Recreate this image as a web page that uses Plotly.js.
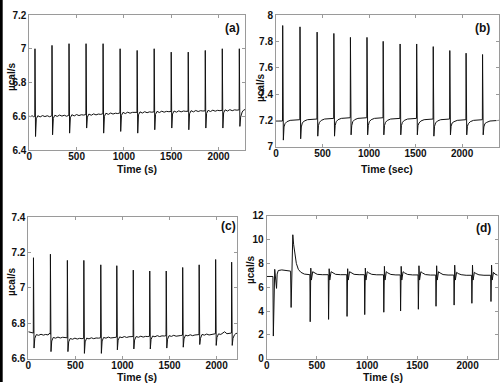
<!DOCTYPE html>
<html>
<head>
<meta charset="utf-8">
<script src="https://cdn.plot.ly/plotly-3.0.1.min.js"></script>
<style>
  html, body { margin: 0; padding: 0; background: #fff; }
  #chart { width: 503px; height: 386px; }
</style>
</head>
<body>
<div id="chart"></div>
<script>
// ---- data (time in s, heat flow in µcal/s) ----

// panel (a)
let timeA = [0, 15, 30, 45,
  58, 60, 66, 74, 90, 115, 140, 165, 190, 215,
  238, 240, 246, 254, 270, 295, 320, 345, 370, 395,
  418, 420, 426, 434, 450, 475, 500, 525, 550, 575,
  598, 600, 606, 614, 630, 655, 680, 705, 730, 755,
  778, 780, 786, 794, 810, 835, 860, 885, 910, 935,
  958, 960, 966, 974, 990, 1015, 1040, 1065, 1090, 1115,
  1138, 1140, 1146, 1154, 1170, 1195, 1220, 1245, 1270, 1295,
  1318, 1320, 1326, 1334, 1350, 1375, 1400, 1425, 1450, 1475,
  1498, 1500, 1506, 1514, 1530, 1555, 1580, 1605, 1630, 1655,
  1678, 1680, 1686, 1694, 1710, 1735, 1760, 1785, 1810, 1835,
  1858, 1860, 1866, 1874, 1890, 1915, 1940, 1965, 1990, 2015,
  2038, 2040, 2046, 2054, 2070, 2095, 2120, 2145, 2170, 2195,
  2218, 2220, 2226, 2234, 2250, 2265, 2280];
let heatA = [6.600, 6.598, 6.603, 6.597,
  6.600, 7.00, 6.48, 6.585, 6.603, 6.596, 6.604, 6.598, 6.603, 6.597,
  6.603, 7.02, 6.49, 6.588, 6.606, 6.599, 6.607, 6.601, 6.606, 6.600,
  6.606, 7.03, 6.50, 6.591, 6.609, 6.602, 6.610, 6.604, 6.609, 6.607,
  6.610, 7.03, 6.53, 6.595, 6.613, 6.606, 6.614, 6.608, 6.613, 6.611,
  6.615, 7.03, 6.50, 6.600, 6.618, 6.611, 6.619, 6.613, 6.618, 6.616,
  6.620, 7.00, 6.51, 6.605, 6.623, 6.616, 6.624, 6.618, 6.623, 6.621,
  6.623, 6.99, 6.50, 6.608, 6.626, 6.619, 6.627, 6.621, 6.626, 6.624,
  6.626, 7.00, 6.52, 6.611, 6.629, 6.622, 6.630, 6.624, 6.629, 6.627,
  6.628, 6.98, 6.53, 6.613, 6.631, 6.624, 6.632, 6.626, 6.631, 6.629,
  6.630, 6.98, 6.52, 6.615, 6.633, 6.626, 6.634, 6.628, 6.633, 6.631,
  6.632, 6.99, 6.53, 6.617, 6.635, 6.628, 6.636, 6.630, 6.635, 6.633,
  6.635, 7.00, 6.53, 6.620, 6.638, 6.631, 6.639, 6.633, 6.638, 6.636,
  6.638, 7.00, 6.54, 6.595, 6.625, 6.636, 6.640];

// panel (b)
let timeB = [0, 40, 70,
  72, 79, 86, 97, 117, 152, 202,
  256, 258, 265, 272, 283, 303, 338, 388,
  440, 442, 449, 456, 467, 487, 522, 572,
  620, 622, 629, 636, 647, 667, 702, 752,
  798, 800, 807, 814, 825, 845, 880, 930,
  976, 978, 985, 992, 1003, 1023, 1058, 1108,
  1150, 1152, 1159, 1166, 1177, 1197, 1232, 1282,
  1332, 1334, 1341, 1348, 1359, 1379, 1414, 1464,
  1510, 1512, 1519, 1526, 1537, 1557, 1592, 1642,
  1688, 1690, 1697, 1704, 1715, 1735, 1770, 1820,
  1866, 1868, 1875, 1882, 1893, 1913, 1948, 1998,
  2041, 2043, 2050, 2057, 2068, 2088, 2123, 2173,
  2218, 2220, 2227, 2234, 2245, 2265, 2300, 2350, 2400];
let heatB = [7.195, 7.196, 7.195,
  7.92, 7.05, 7.15, 7.175, 7.19, 7.20, 7.205,
  7.205, 7.91, 7.06, 7.15, 7.18, 7.195, 7.205, 7.21,
  7.21, 7.87, 7.08, 7.16, 7.185, 7.20, 7.21, 7.215,
  7.215, 7.86, 7.08, 7.16, 7.19, 7.205, 7.215, 7.22,
  7.22, 7.83, 7.09, 7.16, 7.19, 7.205, 7.215, 7.22,
  7.22, 7.83, 7.09, 7.16, 7.19, 7.205, 7.215, 7.22,
  7.22, 7.80, 7.09, 7.16, 7.185, 7.20, 7.21, 7.215,
  7.215, 7.78, 7.09, 7.16, 7.185, 7.20, 7.21, 7.215,
  7.215, 7.78, 7.09, 7.16, 7.18, 7.195, 7.205, 7.21,
  7.21, 7.76, 7.08, 7.155, 7.18, 7.195, 7.205, 7.21,
  7.21, 7.73, 7.09, 7.155, 7.18, 7.19, 7.20, 7.205,
  7.205, 7.71, 7.09, 7.155, 7.175, 7.19, 7.20, 7.205,
  7.205, 7.70, 7.09, 7.15, 7.175, 7.185, 7.195, 7.20, 7.20];

// panel (c)
let timeC = [0, 20, 40,
  53, 55, 61, 69, 85, 110, 135, 160, 185, 210, 228,
  233, 235, 241, 249, 265, 290, 315, 340, 365, 390,
  413, 415, 421, 429, 445, 470, 495, 520, 545, 570,
  588, 590, 596, 604, 620, 645, 670, 695, 720, 745,
  768, 770, 776, 784, 800, 825, 850, 875, 900, 920,
  938, 940, 946, 954, 970, 995, 1020, 1045, 1070, 1095,
  1113, 1115, 1121, 1129, 1145, 1170, 1195, 1220, 1245, 1270,
  1288, 1290, 1296, 1304, 1320, 1345, 1370, 1395, 1420, 1445,
  1463, 1465, 1471, 1479, 1495, 1520, 1545, 1570, 1595, 1620,
  1638, 1640, 1646, 1654, 1670, 1695, 1720, 1745, 1770, 1795,
  1813, 1815, 1821, 1829, 1845, 1870, 1895, 1920, 1945, 1970,
  1988, 1990, 1996, 2004, 2020, 2045, 2070, 2085, 2110, 2140,
  2158, 2160, 2166, 2174, 2190, 2205, 2220];
let heatC = [6.752, 6.750, 6.748,
  6.745, 7.17, 6.66, 6.715, 6.736, 6.732, 6.738, 6.733, 6.737, 6.734, 6.745,
  6.738, 7.19, 6.64, 6.700, 6.720, 6.716, 6.722, 6.717, 6.721, 6.718,
  6.718, 7.155, 6.64, 6.695, 6.714, 6.710, 6.716, 6.711, 6.715, 6.713,
  6.715, 7.155, 6.63, 6.695, 6.716, 6.712, 6.718, 6.713, 6.717, 6.716,
  6.718, 7.13, 6.63, 6.700, 6.720, 6.716, 6.722, 6.717, 6.721, 6.720,
  6.722, 7.125, 6.65, 6.705, 6.723, 6.719, 6.725, 6.720, 6.724, 6.723,
  6.725, 7.10, 6.655, 6.705, 6.725, 6.721, 6.727, 6.722, 6.726, 6.725,
  6.727, 7.095, 6.655, 6.708, 6.728, 6.724, 6.730, 6.725, 6.729, 6.728,
  6.730, 7.095, 6.66, 6.710, 6.730, 6.726, 6.732, 6.727, 6.731, 6.731,
  6.733, 7.115, 6.665, 6.712, 6.733, 6.729, 6.735, 6.730, 6.734, 6.734,
  6.736, 7.13, 6.68, 6.715, 6.737, 6.733, 6.739, 6.734, 6.738, 6.739,
  6.741, 7.16, 6.675, 6.720, 6.740, 6.737, 6.744, 6.752, 6.741, 6.743,
  6.745, 7.145, 6.675, 6.715, 6.735, 6.742, 6.744];

// panel (d)
let timeD = [0, 30, 62, 66, 72, 80, 90, 98, 104, 115, 150, 200, 238,
  243, 250, 260, 268, 280, 295, 315, 340, 375, 420,
  430, 433, 439, 445, 458, 473, 503, 553,
  613, 616, 622, 628, 641, 656, 686, 736,
  797, 800, 806, 812, 825, 840, 870, 920,
  973, 976, 982, 988, 1001, 1016, 1046, 1096,
  1163, 1166, 1172, 1178, 1191, 1206, 1236, 1286,
  1330, 1333, 1339, 1345, 1358, 1373, 1403, 1453,
  1507, 1510, 1516, 1522, 1535, 1550, 1580, 1630,
  1683, 1686, 1692, 1698, 1711, 1726, 1756, 1806,
  1863, 1866, 1872, 1878, 1891, 1906, 1936, 1986,
  2040, 2043, 2049, 2055, 2068, 2083, 2113, 2163,
  2230, 2233, 2239, 2245, 2258, 2273, 2300];
let heatD = [6.9, 6.9, 6.9, 1.9, 6.5, 7.5, 6.6, 5.9, 7.1, 7.4, 7.45, 7.4, 7.35,
  4.3, 7.0, 10.4, 9.6, 8.7, 8.0, 7.5, 7.25, 7.1, 7.05,
  7.05, 3.1, 7.6, 6.6, 7.3, 7.2, 7.08, 7.05,
  7.05, 3.3, 7.55, 6.6, 7.3, 7.2, 7.08, 7.05,
  7.05, 3.55, 7.55, 6.6, 7.3, 7.2, 7.08, 7.05,
  7.05, 3.7, 7.6, 6.6, 7.3, 7.2, 7.08, 7.04,
  7.04, 3.9, 7.75, 6.6, 7.3, 7.2, 7.07, 7.03,
  7.03, 4.0, 7.75, 6.6, 7.3, 7.2, 7.07, 7.03,
  7.03, 4.15, 7.8, 6.6, 7.3, 7.2, 7.06, 7.02,
  7.02, 4.4, 7.8, 6.6, 7.3, 7.2, 7.06, 7.02,
  7.02, 4.5, 7.85, 6.6, 7.25, 7.15, 7.05, 7.0,
  7.0, 4.65, 7.85, 6.6, 7.25, 7.15, 7.04, 7.0,
  7.0, 4.8, 7.85, 6.6, 7.25, 7.1, 7.0];

let panelLetters = ["(a)", "(b)", "(c)", "(d)"];
let xTitles = ["Time (s)", "Time (sec)", "Time (s)", "Time (s)"];
let yTitle = "µcal/s";

// ---- traces ----
let lineStyle = {color: "#111", width: 1};
let traces = [
  {x: timeA, y: heatA, xaxis: "x", yaxis: "y", type: "scatter", mode: "lines", line: lineStyle},
  {x: timeB, y: heatB, xaxis: "x2", yaxis: "y2", type: "scatter", mode: "lines", line: lineStyle},
  {x: timeC, y: heatC, xaxis: "x3", yaxis: "y3", type: "scatter", mode: "lines", line: lineStyle},
  {x: timeD, y: heatD, xaxis: "x4", yaxis: "y4", type: "scatter", mode: "lines", line: lineStyle}
];

// ---- layout ----
let W = 503, H = 386;
let narrow = "Liberation Sans Narrow, Arial Narrow, Liberation Sans, Arial";
let tickFont = {family: narrow, size: 10, color: "#111", weight: "bold"};

function axisStyle(extra) {
  return Object.assign({
    showline: true, mirror: "ticks", linecolor: "#9a9a9a", linewidth: 1,
    ticks: "inside", ticklen: 3, tickcolor: "#9a9a9a",
    showgrid: false, zeroline: false, tickfont: tickFont, fixedrange: true
  }, extra);
}
// x axes: labels sit tight under the frame, as in the scan
function xStyle(extra) {
  return axisStyle(Object.assign({ticklabelstandoff: -3}, extra));
}

// pixel positions -> paper fractions
function px(v) { return v / W; }
function py(v) { return 1 - v / H; }

let layout = {
  width: W, height: H,
  margin: {l: 0, r: 0, t: 0, b: 0},
  paper_bgcolor: "#fff", plot_bgcolor: "#fff",
  showlegend: false,
  xaxis: xStyle({domain: [px(29.3), px(245)], range: [0, 2280], dtick: 500, anchor: "y"}),
  yaxis: axisStyle({domain: [py(150), py(15)], range: [6.4, 7.2], dtick: 0.2, anchor: "x"}),
  xaxis2: xStyle({domain: [px(276), px(499.3)], range: [0, 2400], dtick: 500, anchor: "y2"}),
  yaxis2: axisStyle({domain: [py(146.7), py(15)], range: [7, 8], dtick: 0.2, anchor: "x2"}),
  xaxis3: xStyle({domain: [px(28.3), px(237.3)], range: [0, 2220], dtick: 500, anchor: "y3"}),
  yaxis3: axisStyle({domain: [py(358.7), py(217)], range: [6.6, 7.4], dtick: 0.2, anchor: "x3"}),
  xaxis4: xStyle({domain: [px(266.7), px(497.7)], range: [0, 2300], dtick: 500, anchor: "y4"}),
  yaxis4: axisStyle({domain: [py(358.7), py(215.7)], range: [0, 12], dtick: 2, anchor: "x4"}),
  shapes: [
    // dark strip along the left edge of the scanned figure
    {type: "rect", xref: "paper", yref: "paper", x0: 0, x1: px(2.7), y0: py(382), y1: 1,
     fillcolor: "#000", line: {width: 0}}
  ],
  annotations: []
};

let labelFont = {family: narrow, size: 10.5, color: "#111", weight: "bold"};
let letterFont = {family: "Liberation Sans, Arial", size: 12, color: "#111", weight: "bold"};

let letterPos = [[232, 28], [482, 28], [228, 226], [483, 228]];
let xTitlePos = [[137, 169], [387, 169], [137, 377], [383, 377]];
let yTitlePos = [[11, 77], [260, 88], [11, 282], [250, 270]];

for (let i = 0; i < 4; i++) {
  layout.annotations.push({text: panelLetters[i], xref: "paper", yref: "paper",
    x: px(letterPos[i][0]), y: py(letterPos[i][1]), xanchor: "center", yanchor: "middle",
    showarrow: false, font: letterFont});
  layout.annotations.push({text: xTitles[i], xref: "paper", yref: "paper",
    x: px(xTitlePos[i][0]), y: py(xTitlePos[i][1]), xanchor: "center", yanchor: "middle",
    showarrow: false, font: labelFont});
  layout.annotations.push({text: yTitle, xref: "paper", yref: "paper", textangle: -90,
    x: px(yTitlePos[i][0]), y: py(yTitlePos[i][1]), xanchor: "center", yanchor: "middle",
    showarrow: false, font: Object.assign({}, labelFont, {size: 10})});
}

Plotly.newPlot("chart", traces, layout, {displayModeBar: false, staticPlot: true});
</script>
</body>
</html>
